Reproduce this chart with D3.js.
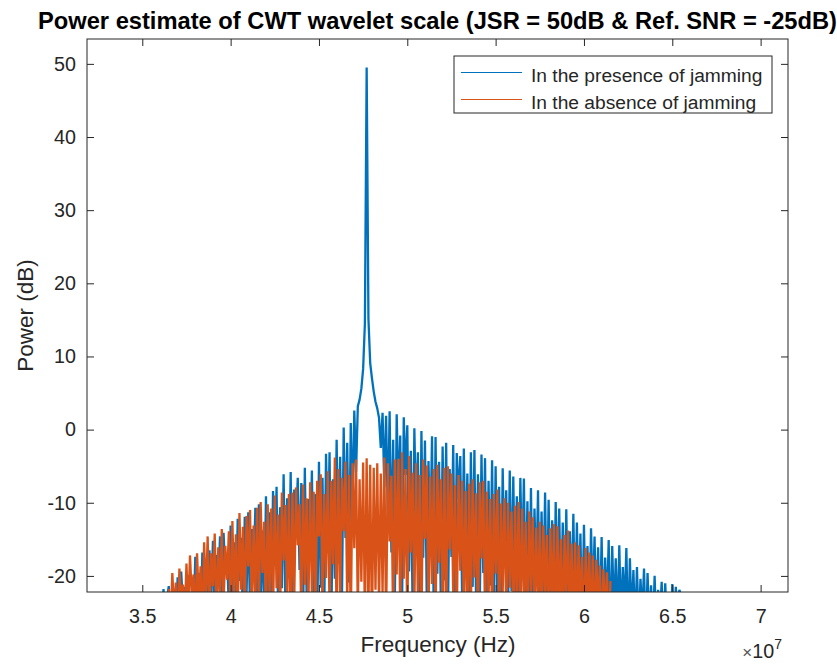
<!DOCTYPE html>
<html>
<head>
<meta charset="utf-8">
<script src="https://d3js.org/d3.v7.min.js"></script>
<style>
  body { margin: 0; background: #fff; }
  svg { font-family: 'Liberation Sans', Arial, sans-serif; }
</style>
</head>
<body>
<svg></svg>
<script>

let width = 837
let height = 666
let plotLeft = 87, plotRight = 788, plotTop = 39, plotBottom = 592

let titleText = 'Power estimate of CWT wavelet scale (JSR = 50dB & Ref. SNR = -25dB)'
let xLabel = 'Frequency (Hz)'
let yLabel = 'Power (dB)'
let seriesNames = ['In the presence of jamming', 'In the absence of jamming']
let seriesColors = ['#0072BD', '#D95319']

let xTicks = [3.5e7, 4e7, 4.5e7, 5e7, 5.5e7, 6e7, 6.5e7, 7e7]
let yTicks = [-20, -10, 0, 10, 20, 30, 40, 50]
let xDomain = [3.187e7, 7.155e7]
let yDomain = [-22.2, 53.4]

// power (dB) on an evenly spaced frequency grid (0.01e7 Hz)
let jammedStart = 3.6e7, jammedEnd = 6.55e7
let jammedPower = [
  -23.5, -27.9, -21.8, -25.2, -22.9, -21.4, -26.8, -24.1, -22.2, -28.5,
  -20.2, -25.7, -19.4, -23.8, -21.5, -27.3, -19.9, -24.6, -22.8, -26.2,
  -17.4, -24.3, -19.6, -26.9, -16.8, -22.7, -18.9, -28.1, -16.5, -23.4,
  -15.2, -25.8, -17.1, -21.3, -14.6, -27.6, -14.1, -19.8, -16.9, -24.7,
  -13.1, -23.9, -15.4, -26.5, -12.2, -20.7, -14.8, -27.8, -11.9, -22.6,
  -11.3, -25.4, -13.6, -19.5, -10.7, -27.2, -10.2, -23.1, -13.8, -26.4,
  -9.1, -22.8, -11.3, -25.9, -8.4, -18.6, -7.8, -27.5, -10.6, -21.7,
  -6.1, -24.6, -9.4, -20.3, -5.8, -27.9, -8.2, -13.5, -6.6, -19.2,
  -7.3, -26.1, -5.2, -22.4, -9.5, -17.8, -5.6, -25.3, -8.8, -28.2,
  -4.4, -21.6, -6.6, -24.8, -3.3, -16.9, -3.1, -26.7, -6.8, -20.4,
  -1.4, -18.3, -3.7, -23.6, 0.3, -14.8, -1.8, -20.9, 0.9, -11.2,
  2.6, -5.8, 3.2, 4.1, 5.6, 8.3, 14.5, 49.5, 15.2, 9.1,
  7.0, 5.2, 3.8, 2.9, 1.6, -2.5, 2.3, -7.9, 1.9, -12.4,
  2.5, -16.8, -1.4, -22.3, 2.1, -9.7, -0.8, -25.6, 1.7, -6.2,
  0.6, -19.4, -2.9, -24.9, 0.2, -12.6, -3.1, -27.3, -0.2, -17.5,
  -1.5, -22.8, -4.3, -15.9, -0.9, -26.4, -1.0, -19.7, -4.4, -24.1,
  -2.3, -20.6, -1.8, -25.7, -5.4, -17.4, -2.1, -23.8, -3.2, -9.5,
  -3.6, -22.4, -2.6, -18.9, -6.0, -26.8, -3.1, -21.5, -2.8, -25.2,
  -6.1, -24.7, -3.4, -19.6, -3.9, -27.1, -7.0, -21.3, -4.2, -26.0,
  -5.0, -23.4, -7.8, -27.6, -5.3, -18.7, -8.3, -25.5, -5.6, -22.1,
  -6.4, -22.9, -9.1, -26.7, -6.6, -19.8, -6.7, -24.4, -9.8, -28.0,
  -8.0, -25.6, -10.8, -21.4, -8.3, -27.7, -11.2, -23.6, -8.6, -26.3,
  -9.6, -24.5, -12.4, -28.3, -9.9, -22.6, -10.8, -26.7, -12.7, -25.0,
  -10.9, -27.4, -13.9, -23.5, -11.5, -26.6, -12.7, -24.8, -14.2, -28.2,
  -13.0, -25.7, -15.9, -28.4, -13.5, -23.9, -14.6, -26.5, -16.1, -27.6,
  -14.7, -27.3, -17.5, -24.6, -15.1, -29.2, -15.9, -25.8, -17.6, -26.9,
  -15.8, -26.6, -18.8, -24.4, -16.2, -28.5, -17.6, -25.9, -19.2, -27.4,
  -18.8, -27.5, -20.4, -25.4, -19.0, -29.1, -19.6, -26.5, -21.3, -27.9,
  -20.0, -27.6, -21.9, -25.6, -20.8, -28.4, -21.0, -26.6, -22.6, -28.9,
  -21.1, -27.3, -21.5, -25.4, -21.9, -22.6
]

let cleanStart = 3.65e7, cleanEnd = 6.15e7
let cleanPower = [
  -21.8, -26.4, -19.6, -24.7, -20.9, -27.2, -19.0, -23.5, -21.2, -25.8,
  -18.3, -24.9, -17.2, -22.6, -19.8, -26.3, -16.9, -23.8, -18.7, -27.5,
  -15.4, -23.1, -14.6, -25.7, -16.9, -21.4, -14.2, -26.8, -16.1, -22.9,
  -13.6, -24.2, -15.9, -20.5, -13.9, -26.3, -12.5, -22.8, -14.3, -25.4,
  -11.4, -21.9, -13.3, -25.1, -11.8, -18.7, -11.0, -26.6, -13.1, -23.3,
  -10.7, -24.4, -9.9, -19.6, -12.6, -27.0, -10.2, -22.5, -10.8, -25.9,
  -9.0, -21.7, -11.6, -26.2, -8.6, -17.9, -10.3, -24.8, -8.8, -27.4,
  -8.6, -23.6, -7.9, -15.8, -10.2, -26.4, -7.5, -21.2, -9.4, -25.0,
  -7.2, -22.5, -8.5, -27.3, -7.0, -14.6, -6.1, -24.7, -8.8, -20.3,
  -5.7, -25.2, -7.0, -18.4, -3.8, -26.9, -5.4, -22.6, -6.6, -13.9,
  -4.4, -23.7, -6.2, -27.5, -4.6, -16.2, -4.1, -25.3, -6.8, -20.8,
  -4.5, -26.1, -3.9, -25.3, -4.8, -28.0, -5.2, -21.9, -4.6, -24.3,
  -6.0, -22.4, -3.8, -26.7, -4.6, -15.3, -6.3, -27.2, -4.1, -19.8,
  -4.0, -25.8, -3.1, -20.4, -5.4, -27.1, -3.6, -16.8, -5.9, -24.5,
  -4.6, -23.4, -6.2, -27.8, -4.1, -14.9, -4.9, -25.6, -6.4, -21.1,
  -5.4, -26.3, -4.8, -18.2, -6.8, -24.9, -5.2, -27.6, -5.0, -16.4,
  -6.0, -22.7, -7.6, -26.5, -6.2, -19.3, -7.0, -25.1, -8.4, -28.0,
  -7.4, -24.6, -6.8, -20.2, -8.7, -27.9, -7.2, -17.6, -7.0, -25.8,
  -8.5, -23.5, -9.5, -26.8, -8.8, -19.7, -8.2, -27.3, -10.1, -22.4,
  -9.4, -25.4, -10.0, -21.6, -11.2, -27.5, -10.4, -24.2, -9.9, -26.7,
  -10.8, -24.3, -12.6, -27.9, -11.2, -22.1, -12.0, -26.0, -13.4, -25.2,
  -12.6, -26.4, -13.1, -23.2, -14.4, -27.3, -13.5, -24.9, -12.9, -28.1,
  -13.2, -25.3, -15.0, -27.8, -14.4, -23.4, -13.8, -26.2, -15.6, -27.0,
  -15.4, -26.2, -15.8, -24.3, -17.4, -28.2, -16.2, -25.7, -16.8, -27.4,
  -17.2, -27.3, -17.8, -24.5, -18.6, -29.0, -19.1, -25.6, -19.5, -27.8,
  -20.7
]

let axisColor = '#262626'

let svg = d3.select('svg')
            .attr('width', width)
            .attr('height', height)

let xScale = d3.scaleLinear().domain(xDomain).range([plotLeft, plotRight])
let yScale = d3.scaleLinear().domain(yDomain).range([plotBottom, plotTop])

let toPoints = (start, end, values) => {
    let step = (end - start) / (values.length - 1)
    return values.map((v, i) => [start + i * step, v])
}

let drawLines = () => {
    svg.append('defs')
       .append('clipPath')
       .attr('id', 'plot-clip')
       .append('rect')
       .attr('x', plotLeft)
       .attr('y', plotTop)
       .attr('width', plotRight - plotLeft)
       .attr('height', plotBottom - plotTop)

    let line = d3.line()
                 .x(d => xScale(d[0]))
                 .y(d => yScale(d[1]))

    let series = [
        {color: seriesColors[0], points: toPoints(jammedStart, jammedEnd, jammedPower)},
        {color: seriesColors[1], points: toPoints(cleanStart, cleanEnd, cleanPower)}
    ]

    svg.append('g')
       .attr('clip-path', 'url(#plot-clip)')
       .selectAll('path')
       .data(series)
       .enter()
       .append('path')
       .attr('d', d => line(d.points))
       .attr('fill', 'none')
       .attr('stroke', d => d.color)
       .attr('stroke-width', 2.3)
       .attr('stroke-linejoin', 'bevel')
}

let styleAxis = (g) => {
    g.select('.domain').remove()
    g.selectAll('line').attr('stroke', axisColor)
    g.selectAll('text')
     .attr('fill', axisColor)
     .attr('font-size', '19.7px')
     .attr('font-family', "'Liberation Sans', Arial, sans-serif")
}

let drawAxes = () => {
    svg.append('g')
       .attr('transform', 'translate(0,' + plotBottom + ')')
       .call(d3.axisBottom(xScale).tickValues(xTicks).tickSizeInner(-7).tickSizeOuter(0)
               .tickPadding(17).tickFormat(d => String(d / 1e7)))
       .call(styleAxis)

    svg.append('g')
       .attr('transform', 'translate(0,' + plotTop + ')')
       .call(d3.axisTop(xScale).tickValues(xTicks).tickSizeInner(-7).tickSizeOuter(0).tickFormat(''))
       .call(styleAxis)

    svg.append('g')
       .attr('transform', 'translate(' + plotLeft + ',0)')
       .call(d3.axisLeft(yScale).tickValues(yTicks).tickSizeInner(-7).tickSizeOuter(0)
               .tickPadding(11).tickFormat(d => String(d)))
       .call(styleAxis)

    svg.append('g')
       .attr('transform', 'translate(' + plotRight + ',0)')
       .call(d3.axisRight(yScale).tickValues(yTicks).tickSizeInner(-7).tickSizeOuter(0).tickFormat(''))
       .call(styleAxis)

    svg.append('rect')
       .attr('x', plotLeft)
       .attr('y', plotTop)
       .attr('width', plotRight - plotLeft)
       .attr('height', plotBottom - plotTop)
       .attr('fill', 'none')
       .attr('stroke', axisColor)
       .attr('stroke-width', 1)
}

let drawLabels = () => {
    svg.append('text')
       .attr('x', (plotLeft + plotRight) / 2)
       .attr('y', 29)
       .attr('text-anchor', 'middle')
       .attr('font-size', '23.7px')
       .attr('font-weight', 'bold')
       .attr('fill', '#000')
       .text(titleText)

    svg.append('text')
       .attr('x', 438)
       .attr('y', 652)
       .attr('text-anchor', 'middle')
       .attr('font-size', '22.5px')
       .attr('fill', axisColor)
       .text(xLabel)

    svg.append('text')
       .attr('transform', 'translate(33,' + ((plotTop + plotBottom) / 2) + ') rotate(-90)')
       .attr('text-anchor', 'middle')
       .attr('font-size', '22.5px')
       .attr('fill', axisColor)
       .text(yLabel)

    let expo = svg.append('text')
                  .attr('x', 782)
                  .attr('y', 658)
                  .attr('text-anchor', 'end')
                  .attr('font-size', '19.7px')
                  .attr('fill', axisColor)
    expo.append('tspan').attr('font-size', '17px').attr('fill', '#555').text('\u00d7')
    expo.append('tspan').text('10')
    expo.append('tspan').attr('font-size', '14px').attr('dy', -9).text('7')
}

let drawLegend = () => {
    let legend = svg.append('g')

    legend.append('rect')
          .attr('x', 454)
          .attr('y', 56)
          .attr('width', 318)
          .attr('height', 57)
          .attr('fill', '#fff')
          .attr('stroke', axisColor)
          .attr('stroke-width', 1)

    let entries = seriesNames.map((name, i) => ({name: name, color: seriesColors[i], row: i}))

    let rows = legend.selectAll('.row')
                     .data(entries)
                     .enter()
                     .append('g')
                     .attr('class', 'row')
                     .attr('transform', d => 'translate(0,' + (d.row * 27) + ')')

    rows.append('line')
        .attr('x1', 461)
        .attr('x2', 522)
        .attr('y1', 72.5)
        .attr('y2', 72.5)
        .attr('stroke', d => d.color)
        .attr('stroke-width', 1.2)

    rows.append('text')
        .attr('x', 531)
        .attr('y', 82)
        .attr('font-size', '19.2px')
        .attr('fill', axisColor)
        .text(d => d.name)
}

drawLines()
drawAxes()
drawLabels()
drawLegend()

</script>
</body>
</html>
